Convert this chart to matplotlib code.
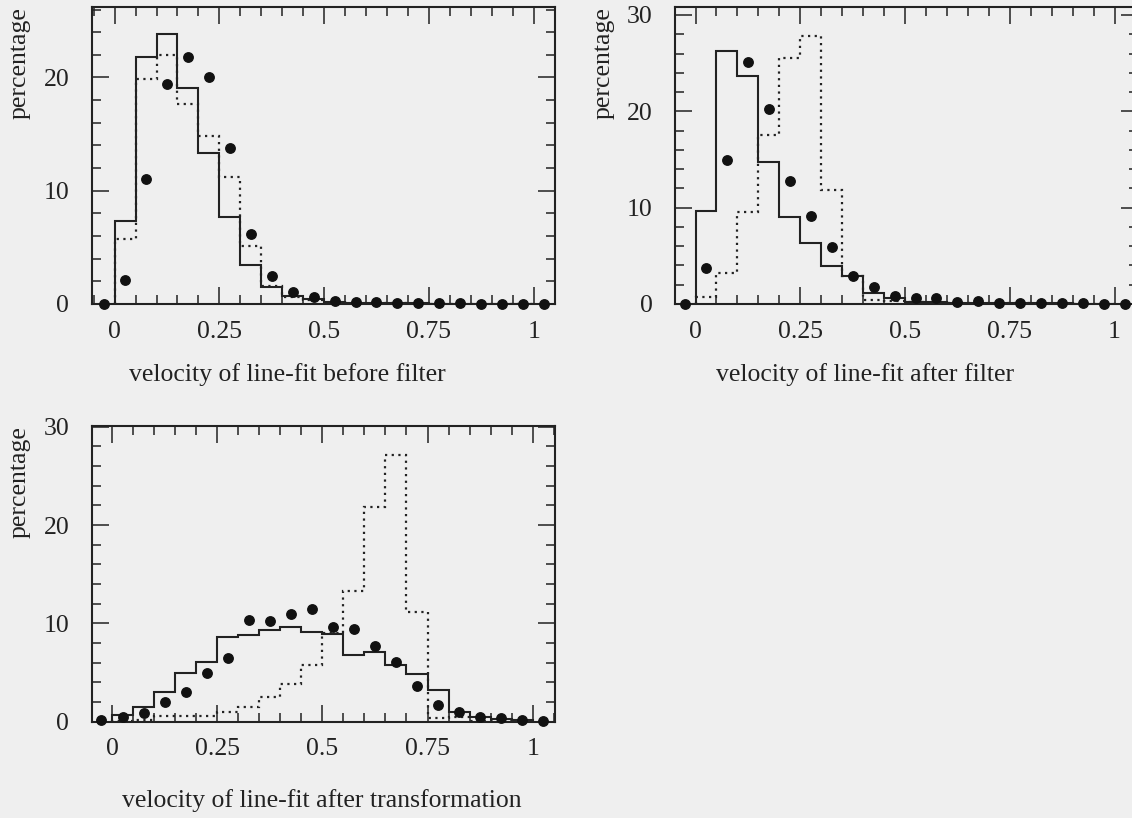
import numpy as np
import matplotlib
matplotlib.use('Agg')
import matplotlib.pyplot as plt
from matplotlib.ticker import MultipleLocator, FixedLocator

# ── DATA (percent per 0.05 bin) ──────────────────────────────────────────────
EDGES = np.arange(0, 1.0001, 0.05)            # 20 bins from 0 to 1
DOT_X = np.arange(-0.025, 1.05, 0.05)         # 22 bin centres from -0.025 to 1.025

before_solid = [7.35, 21.8, 23.8, 19.1, 13.3, 7.7, 3.4, 1.5, 0.73, 0.42,
                0.15, 0.1, 0.08, 0.05, 0.05, 0.03, 0.03, 0.02, 0.02, 0.01]
before_dotted = [5.7, 19.9, 22.0, 17.7, 14.8, 11.2, 5.1, 1.6, 0.6, 0.35,
                 0.12, 0.08, 0.06, 0.05, 0.04, 0.03, 0.02, 0.02, 0.01, 0.01]
before_dots = [0.0, 2.1, 11.0, 19.4, 21.8, 20.0, 13.8, 6.2, 2.5, 1.1, 0.65,
               0.3, 0.2, 0.15, 0.1, 0.08, 0.06, 0.05, 0.04, 0.03, 0.02, 0.0]

after_solid = [9.7, 26.3, 23.7, 14.7, 9.07, 6.3, 3.9, 2.9, 1.17, 0.59,
               0.25, 0.2, 0.15, 0.12, 0.1, 0.08, 0.06, 0.05, 0.04, 0.03]
after_dotted = [0.7, 3.2, 9.5, 17.5, 25.5, 27.8, 11.8, 2.9, 0.4, 0.3,
                0.2, 0.15, 0.1, 0.08, 0.06, 0.05, 0.04, 0.03, 0.02, 0.01]
after_dots = [0.0, 3.7, 14.95, 25.1, 20.2, 12.8, 9.1, 5.9, 2.9, 1.77, 0.83,
              0.6, 0.6, 0.25, 0.35, 0.15, 0.12, 0.1, 0.08, 0.06, 0.04, 0.02]

trans_solid = [0.68, 1.5, 3.05, 5.0, 6.1, 8.65, 8.8, 9.3, 9.6, 9.1,
               8.95, 6.8, 7.1, 5.8, 4.9, 3.2, 1.0, 0.5, 0.3, 0.15]
trans_dotted = [0.1, 0.2, 0.58, 0.58, 0.58, 1.0, 1.46, 2.5, 3.8, 5.8,
                9.0, 13.3, 21.8, 27.1, 11.2, 0.4, 0.45, 0.1, 0.05, 0.02]
trans_dots = [0.15, 0.5, 0.85, 2.0, 3.0, 5.0, 6.5, 10.3, 10.2, 11.0, 11.5,
              9.6, 9.4, 7.7, 6.1, 3.6, 1.67, 0.95, 0.5, 0.4, 0.15, 0.1]

XTICKS = [0, 0.25, 0.5, 0.75, 1]
XTICKLABELS = ['0', '0.25', '0.5', '0.75', '1']

# ── STYLE ────────────────────────────────────────────────────────────────────
plt.rcParams['font.family'] = ['Liberation Serif', 'DejaVu Serif']
BG = '#efefef'
INK = '#222222'
FS = 18.5

fig = plt.figure(figsize=(11.32, 8.18), dpi=100, facecolor=BG)


def panel(rect, xlim, ylim, yticks, solid, dotted, dots):
    ax = fig.add_axes(rect, facecolor=BG)
    ax.stairs(solid, EDGES, baseline=0, color=INK, lw=1.5)
    ax.stairs(dotted, EDGES, baseline=0, color=INK, lw=1.6, ls=(0, (1, 2)))
    ax.plot(DOT_X, dots, 'o', color='#111111', ms=6.8, clip_on=False, zorder=5)
    ax.set_xlim(*xlim)
    ax.set_ylim(*ylim)
    ax.xaxis.set_major_locator(FixedLocator(XTICKS))
    ax.set_xticklabels(XTICKLABELS)
    ax.xaxis.set_minor_locator(MultipleLocator(0.05))
    ax.yaxis.set_major_locator(FixedLocator(yticks))
    ax.yaxis.set_minor_locator(MultipleLocator(2))
    ax.tick_params(which='both', direction='in', top=True, right=True,
                   color=INK, width=1.1)
    ax.tick_params(which='major', length=12.5)
    ax.tick_params(which='minor', length=6.5)
    ax.tick_params(axis='x', pad=12, labelsize=FS, labelcolor=INK)
    ax.tick_params(axis='y', pad=16, labelsize=FS, labelcolor=INK)
    for s in ax.spines.values():
        s.set_color(INK)
        s.set_linewidth(1.5)
    ax.text(-0.155, 1.0, 'percentage', rotation=90, ha='center', va='top',
            fontsize=FS, color=INK, transform=ax.transAxes)
    return ax


panel([0.0809, 0.6284, 0.409, 0.3634], (-0.055, 1.05), (0, 26.25),
      [0, 10, 20], before_solid, before_dotted, before_dots)
panel([0.5963, 0.6284, 0.409, 0.3627], (-0.049, 1.056), (0, 30.8),
      [0, 10, 20, 30], after_solid, after_dotted, after_dots)
panel([0.0809, 0.1177, 0.409, 0.3619], (-0.0485, 1.052), (0, 30.1),
      [0, 10, 20, 30], trans_solid, trans_dotted, trans_dots)

fig.text(287 / 1132, 1 - 375 / 818, 'velocity of line-fit before filter',
         ha='center', va='center', fontsize=FS, color=INK)
fig.text(865 / 1132, 1 - 375 / 818, 'velocity of line-fit after filter',
         ha='center', va='center', fontsize=FS, color=INK)
fig.text(322 / 1132, 1 - 801 / 818, 'velocity of line-fit after transformation',
         ha='center', va='center', fontsize=FS, color=INK)

fig.savefig('out.png', dpi=100, facecolor=BG)
